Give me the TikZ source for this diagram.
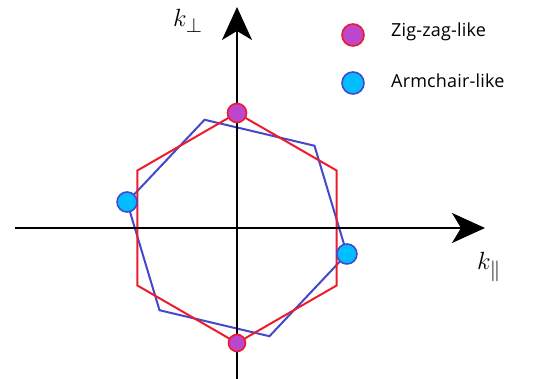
\documentclass[tikz,border=0pt]{standalone}
\usepackage{fontspec}
\setmainfont{Open Sans}
\usepackage{amsmath}
\usepackage{tikz}
\usetikzlibrary{arrows.meta, calc, positioning}
\definecolor{zzline}{RGB}{236,28,44}
\definecolor{zzfill}{RGB}{188,70,204}
\definecolor{acline}{RGB}{68,72,204}
\definecolor{acfill}{RGB}{0,190,255}
\tikzset{
  axis/.style   = {-{Stealth[length=33pt, width=30pt, inset=9pt]}, line width=2pt, black},
  zzhex/.style  = {draw=zzline, line width=2pt, line join=miter},
  achex/.style  = {draw=acline, line width=2pt, line join=miter},
  zzdot/.style  = {circle, draw=zzline, fill=zzfill, line width=1.6pt, inner sep=0pt, minimum size=19pt},
  acdot/.style  = {circle, draw=acline, fill=acfill, line width=1.6pt, inner sep=0pt, minimum size=20pt},
  klbl/.style   = {font=\fontsize{32}{36}\selectfont, inner sep=0pt, anchor=base west},
  lgd/.style    = {font=\fontsize{18}{21}\selectfont\addfontfeatures{LetterSpace=1}, inner sep=0pt, anchor=west},
}
\newcommand{\hexagon}[4]{%
  % #1 style, #2 radius, #3 start angle, #4 name prefix
  \foreach \i in {0,...,5}{
    \coordinate (#4\i) at ({#3+60*\i}:#2);
  }
  \draw[#1] (#40) -- (#41) -- (#42) -- (#43) -- (#44) -- (#45) -- cycle;
}

\begin{document}
\begin{tikzpicture}[x=1pt, y=1pt]
  \useasboundingbox (-237,-151) rectangle (302,228);
  \hexagon{achex}{113}{46.7}{b}
  \hexagon{zzhex}{115}{90}{r}
  % axes
  \coordinate (xs) at (-222,0);
  \coordinate (xe) at (248,0);
  \coordinate (ys) at (0,-152);
  \coordinate (ye) at (0,221);
  \draw[axis] (xs) -- (xe);
  \draw[axis] (ys) -- (ye);
  \node[klbl] (kperp) at (-64,201) {$k_{\perp}$};
  \node[klbl] (kpar) at (240,-42) {$k_{\parallel}$};
  % marked points
  \node[zzdot] (ztop) at (r0) {};
  \node[zzdot, minimum size=17pt] (zbot) at (r3) {};
  \node[acdot] (aleft) at (b2) {};
  \node[acdot] (aright) at (b5) {};
  % legend
  \node[zzdot, minimum size=22pt] (lz) at (116,193) {};
  \node[lgd] (lztext) at (154,196) {Zig-zag-like};
  \node[acdot, minimum size=22pt] (la) at (116,145) {};
  \node[lgd] (latext) at (154,147) {Armchair-like};
\end{tikzpicture}
\end{document}
